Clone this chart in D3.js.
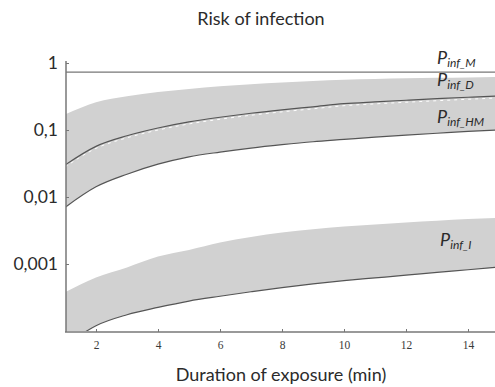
<!DOCTYPE html>
<html>
<head>
<meta charset="utf-8">
<script src="https://cdn.jsdelivr.net/npm/d3@7/dist/d3.min.js"></script>
<style>
  html, body { margin: 0; padding: 0; background: #fff; }
  svg { display: block; }
</style>
</head>
<body>
<svg id="chart" width="495" height="387"></svg>
<script>
// Exposure duration (minutes)
const minutes = [1, 2, 3, 4, 5, 6, 7, 8, 9, 10, 11, 12, 13, 14, 15];

// Maximum risk (constant)
const pInfM = [0.73, 0.73, 0.73, 0.73, 0.73, 0.73, 0.73, 0.73, 0.73, 0.73, 0.73, 0.73, 0.73, 0.73, 0.73];

// Upper range edge of P_inf_D
const pInfDHigh = [0.17, 0.26, 0.32, 0.37, 0.41, 0.45, 0.48, 0.51, 0.54, 0.56, 0.575, 0.59, 0.60, 0.61, 0.62];
// P_inf_D line (lower edge of its range, upper edge of P_inf_HM range)
const pInfD = [0.030, 0.057, 0.082, 0.107, 0.132, 0.155, 0.178, 0.200, 0.222, 0.247, 0.263, 0.278, 0.293, 0.308, 0.323];
// P_inf_HM line
const pInfHM = [0.0070, 0.0142, 0.0219, 0.0309, 0.0398, 0.0468, 0.0537, 0.0603, 0.0668, 0.0724, 0.0785, 0.0841, 0.0895, 0.0951, 0.1005];

// P_inf_I range
const pInfIHigh = [0.00038, 0.00063, 0.00089, 0.00129, 0.00162, 0.00209, 0.00253, 0.00295, 0.00331, 0.00363, 0.00389, 0.00417, 0.00442, 0.00468, 0.0049];
const pInfI = [0.000060, 0.000120, 0.000175, 0.000225, 0.000280, 0.000330, 0.000385, 0.000445, 0.000505, 0.000565, 0.000620, 0.000680, 0.000750, 0.000820, 0.000900];

// Axis ticks
const xTicks = [2, 4, 6, 8, 10, 12, 14];
const yTicks = [1, 0.1, 0.01, 0.001];
const yTickLabels = ["1", "0,1", "0,01", "0,001"];

const svg = d3.select("#chart");

const x = d3.scaleLinear().domain([1, 15]).range([65, 499]);
const y = d3.scaleLog().domain([1e-4, 1]).range([331, 63]);

const FILL = "#d1d1d1";
const LINE = "#555";
const TEXT = "#2b2b2b";
const SANS = "Lato, 'Open Sans', sans-serif";

svg.append("defs").append("clipPath").attr("id", "plot")
  .append("rect").attr("x", 66).attr("y", 60).attr("width", 440).attr("height", 271);

const plot = svg.append("g").attr("clip-path", "url(#plot)");

const band = (lo, hi) => d3.area()
  .x((d, i) => x(minutes[i]))
  .y0((d, i) => y(lo[i]))
  .y1((d, i) => y(hi[i]))
  .curve(d3.curveMonotoneX);

const line = arr => d3.line()
  .x((d, i) => x(minutes[i]))
  .y((d, i) => y(arr[i]))
  .curve(d3.curveMonotoneX);

// Range bands
plot.append("path").datum(minutes).attr("d", band(pInfHM, pInfDHigh)).attr("fill", FILL);
plot.append("path").datum(minutes).attr("d", band(pInfI, pInfIHigh)).attr("fill", FILL);

// Boundary lines
plot.append("path").datum(minutes).attr("d", line(pInfM))
  .attr("fill", "none").attr("stroke", "#777").attr("stroke-width", 1.2);
plot.append("path").datum(minutes).attr("d", line(pInfD))
  .attr("fill", "none").attr("stroke", "#fff").attr("stroke-width", 1)
  .attr("stroke-dasharray", "3 4").attr("transform", "translate(0,2)");
plot.append("path").datum(minutes).attr("d", line(pInfD))
  .attr("fill", "none").attr("stroke", LINE).attr("stroke-width", 1.2);
plot.append("path").datum(minutes).attr("d", line(pInfHM))
  .attr("fill", "none").attr("stroke", LINE).attr("stroke-width", 1.2);
plot.append("path").datum(minutes).attr("d", line(pInfI))
  .attr("fill", "none").attr("stroke", LINE).attr("stroke-width", 1.2);

// Y axis
const yAxis = svg.append("g").attr("transform", "translate(66,0)")
  .call(d3.axisLeft(y).tickValues(yTicks).tickSizeInner(-3).tickSizeOuter(0)
    .tickFormat((d, i) => yTickLabels[i]));
yAxis.select(".domain").attr("stroke", "#777").attr("stroke-width", 1.5)
  .attr("d", "M0,61V332");
yAxis.selectAll(".tick line").attr("stroke", "#777");
yAxis.selectAll(".tick text")
  .attr("x", -8).attr("dy", "0.32em")
  .attr("font-family", SANS).attr("font-size", 17.5).attr("fill", TEXT);

// X axis
const xAxis = svg.append("g").attr("transform", "translate(0,332)")
  .call(d3.axisBottom(x).tickValues(xTicks).tickSizeInner(-3).tickSizeOuter(0));
xAxis.select(".domain").attr("stroke", "#777").attr("stroke-width", 1.5)
  .attr("d", "M65,0H499");
xAxis.selectAll(".tick line").attr("stroke", "#777");
xAxis.selectAll(".tick text")
  .attr("y", 9).attr("dy", "0.71em")
  .attr("font-family", "'Liberation Serif', 'DejaVu Serif', serif").attr("font-size", 11.5).attr("fill", "#3a3a3a");

// Titles
svg.append("text").attr("x", 261).attr("y", 25).attr("text-anchor", "middle")
  .attr("font-family", SANS).attr("font-size", 18).attr("fill", TEXT)
  .text("Risk of infection");
svg.append("text").attr("x", 281).attr("y", 381).attr("text-anchor", "middle")
  .attr("font-family", SANS).attr("font-size", 18).attr("fill", TEXT)
  .text("Duration of exposure (min)");

// Series labels
const labels = [
  { sub: "inf_M", x: 437, y: 64 },
  { sub: "inf_D", x: 437, y: 86 },
  { sub: "inf_HM", x: 437, y: 123 },
  { sub: "inf_I", x: 440, y: 246 }
];
labels.forEach(l => {
  const t = svg.append("text").attr("x", l.x).attr("y", l.y)
    .attr("font-family", SANS).attr("font-style", "italic").attr("fill", TEXT);
  t.append("tspan").attr("font-size", 18).text("P");
  t.append("tspan").attr("font-size", 12).attr("dy", 3).text(l.sub);
});
</script>
</body>
</html>
